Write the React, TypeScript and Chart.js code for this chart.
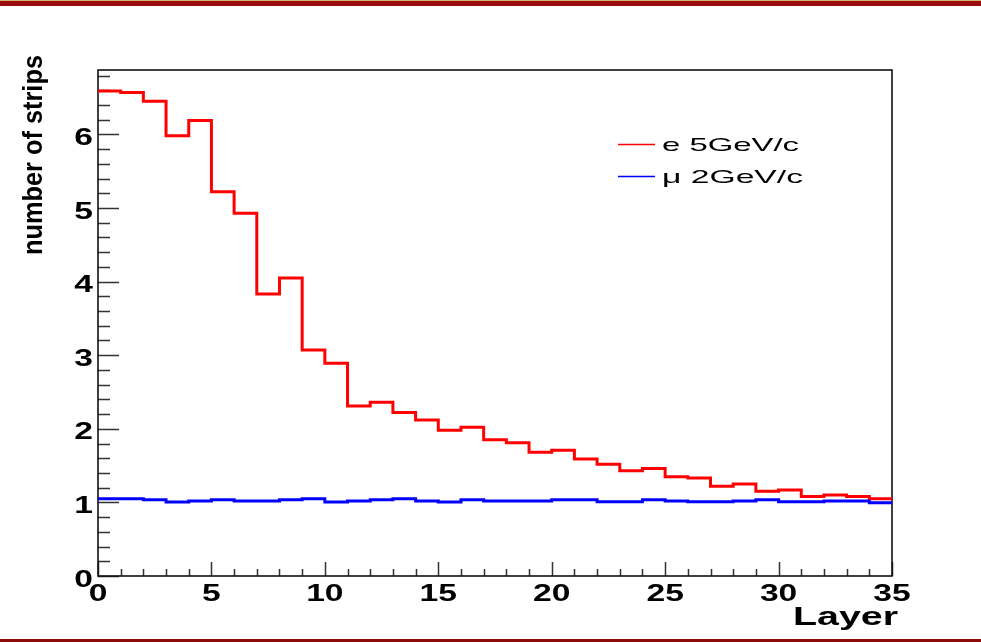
import React, { useEffect, useRef } from "react";
import { Chart, registerables } from "chart.js";

Chart.register(...registerables);

// ---- data ----
const layerEdges = [
  0, 1, 2, 3, 4, 5, 6, 7, 8, 9, 10, 11, 12, 13, 14, 15, 16, 17, 18, 19, 20, 21, 22, 23, 24, 25, 26, 27,
  28, 29, 30, 31, 32, 33, 34,
];
const lastEdge = 35;

const electronStrips = [
  6.59, 6.57, 6.45, 5.98, 6.19, 5.22, 4.93, 3.83, 4.05, 3.07, 2.89, 2.31, 2.36, 2.22, 2.12, 1.98, 2.02,
  1.85, 1.81, 1.68, 1.71, 1.59, 1.52, 1.43, 1.46, 1.35, 1.33, 1.22, 1.25, 1.15, 1.17, 1.08, 1.1, 1.08, 1.05,
];
const muonStrips = [
  1.05, 1.05, 1.035, 1.005, 1.02, 1.035, 1.02, 1.02, 1.035, 1.05, 1.005, 1.02, 1.035, 1.05, 1.02, 1.005,
  1.035, 1.02, 1.02, 1.02, 1.035, 1.035, 1.01, 1.01, 1.035, 1.02, 1.01, 1.01, 1.02, 1.035, 1.01, 1.01,
  1.02, 1.02, 0.995,
];

const seriesLabels = ["e 5GeV/c", "\u03bc 2GeV/c"];
const seriesColors = ["#ff0000", "#0000ff"];

const xTickLabels = ["0", "5", "10", "15", "20", "25", "30", "35"];
const yTickLabels = ["0", "1", "2", "3", "4", "5", "6"];
const xTitle = "Layer";
const yTitle = "number of strips";

const yMax = 6.875;

const FONT = '"Liberation Sans", Arial, Helvetica, sans-serif';

function toSteps(values: number[]) {
  const pts = values.map((v, i) => ({ x: layerEdges[i], y: v }));
  pts.push({ x: lastEdge, y: values[values.length - 1] });
  return pts;
}

function drawText(
  ctx: CanvasRenderingContext2D,
  text: string,
  x: number,
  y: number,
  font: string,
  sx: number,
  align: CanvasTextAlign
) {
  ctx.save();
  ctx.font = font;
  ctx.textAlign = align;
  ctx.textBaseline = "alphabetic";
  ctx.fillStyle = "#000";
  ctx.translate(x, y);
  ctx.scale(sx, 1);
  ctx.fillText(text, 0, 0);
  ctx.restore();
}

function fitScale(ctx: CanvasRenderingContext2D, text: string, font: string, target: number) {
  ctx.save();
  ctx.font = font;
  const w = ctx.measureText(text).width;
  ctx.restore();
  return w > 0 ? target / w : 1;
}

const rootStyle = {
  id: "rootStyle",
  beforeDraw(chart: any) {
    const ctx: CanvasRenderingContext2D = chart.ctx;
    const W = chart.width;
    ctx.save();
    ctx.fillStyle = "#ffffff";
    ctx.fillRect(0, 0, W, chart.height);
    ctx.fillStyle = "#d8b46c";
    ctx.fillRect(0, 0, W, 1);
    ctx.fillStyle = "#990d0d";
    ctx.fillRect(0, 1, W, 5);
    ctx.fillStyle = "#8e0b0b";
    ctx.fillRect(0, chart.height - 3, W, 3);
    ctx.restore();
  },
  beforeDatasetsDraw(chart: any) {
    const ctx: CanvasRenderingContext2D = chart.ctx;
    const a = chart.chartArea;
    const xs = chart.scales.x;
    const ys = chart.scales.y;
    ctx.save();
    ctx.strokeStyle = "#333";
    ctx.lineWidth = 1.5;
    ctx.beginPath();
    const nMinorY = Math.floor(yMax * 5 + 1e-6);
    for (let k = 0; k <= nMinorY; k++) {
      const p = Math.round(ys.getPixelForValue(k / 5)) + 0.5;
      const len = k % 5 === 0 ? 21 : 12;
      ctx.moveTo(a.left, p);
      ctx.lineTo(a.left + len, p);
    }
    for (let k = 0; k <= lastEdge; k++) {
      const p = Math.round(xs.getPixelForValue(k)) + 0.5;
      const len = k % 5 === 0 ? 14 : 7;
      ctx.moveTo(p, a.bottom);
      ctx.lineTo(p, a.bottom - len);
    }
    ctx.stroke();
    ctx.strokeStyle = "#111";
    ctx.lineWidth = 1.6;
    ctx.strokeRect(a.left, a.top, a.right - a.left, a.bottom - a.top);
    ctx.restore();
  },
  afterDraw(chart: any) {
    const ctx: CanvasRenderingContext2D = chart.ctx;
    const a = chart.chartArea;
    const xs = chart.scales.x;
    const ys = chart.scales.y;
    const tickFont = `bold 24px ${FONT}`;
    const tickSx = 1.4;

    yTickLabels.forEach((t) => {
      const p = ys.getPixelForValue(Number(t));
      drawText(ctx, t, a.left - 5, p + 10.5, tickFont, tickSx, "right");
    });
    xTickLabels.forEach((t) => {
      const p = xs.getPixelForValue(Number(t));
      drawText(ctx, t, p, 601, tickFont, tickSx, "center");
    });

    // x title
    const xtFont = `bold 25px ${FONT}`;
    drawText(ctx, xTitle, 898, 625, xtFont, fitScale(ctx, xTitle, xtFont, 105), "right");

    // y title (rotated)
    const ytFont = `bold 27px ${FONT}`;
    const ytS = fitScale(ctx, yTitle, ytFont, 200);
    ctx.save();
    ctx.font = ytFont;
    ctx.fillStyle = "#000";
    ctx.textAlign = "left";
    ctx.textBaseline = "alphabetic";
    ctx.translate(42, 255);
    ctx.rotate(-Math.PI / 2);
    ctx.scale(ytS, 1);
    ctx.fillText(yTitle, 0, 0);
    ctx.restore();

    // legend
    const lgFont = `18.5px ${FONT}`;
    const rows = [
      { y: 144.5, base: 150.7, w: 137 },
      { y: 176.5, base: 182.7, w: 141 },
    ];
    seriesLabels.forEach((lab, i) => {
      const r = rows[i];
      ctx.save();
      ctx.strokeStyle = seriesColors[i];
      ctx.lineWidth = 1.5;
      ctx.beginPath();
      ctx.moveTo(618, r.y);
      ctx.lineTo(655, r.y);
      ctx.stroke();
      ctx.restore();
      drawText(ctx, lab, 662, r.base, lgFont, fitScale(ctx, lab, lgFont, r.w), "left");
    });
  },
};

export default function App() {
  const ref = useRef<HTMLCanvasElement | null>(null);

  useEffect(() => {
    if (!ref.current) return;
    const chart = new Chart(ref.current, {
      type: "line",
      data: {
        datasets: [
          {
            label: seriesLabels[0],
            data: toSteps(electronStrips),
            borderColor: seriesColors[0],
            borderWidth: 3,
            stepped: "before",
            pointRadius: 0,
            fill: false,
            order: 2,
          },
          {
            label: seriesLabels[1],
            data: toSteps(muonStrips),
            borderColor: seriesColors[1],
            borderWidth: 3,
            stepped: "before",
            pointRadius: 0,
            fill: false,
            order: 1,
          },
        ],
      },
      options: {
        responsive: false,
        animation: false,
        devicePixelRatio: 1,
        layout: { padding: { left: 98, right: 89, top: 70, bottom: 66 } },
        scales: {
          x: { type: "linear", min: 0, max: lastEdge, display: false },
          y: { type: "linear", min: 0, max: yMax, display: false },
        },
        plugins: {
          legend: { display: false },
          tooltip: { enabled: false },
          title: { display: false },
        },
      },
      plugins: [rootStyle],
    } as any);
    return () => chart.destroy();
  }, []);

  return (
    <div style={{ position: "fixed", left: 0, top: 0, width: 981, height: 642, background: "#fff" }}>
      <canvas ref={ref} width={981} height={642} style={{ width: 981, height: 642, display: "block" }} />
    </div>
  );
}
